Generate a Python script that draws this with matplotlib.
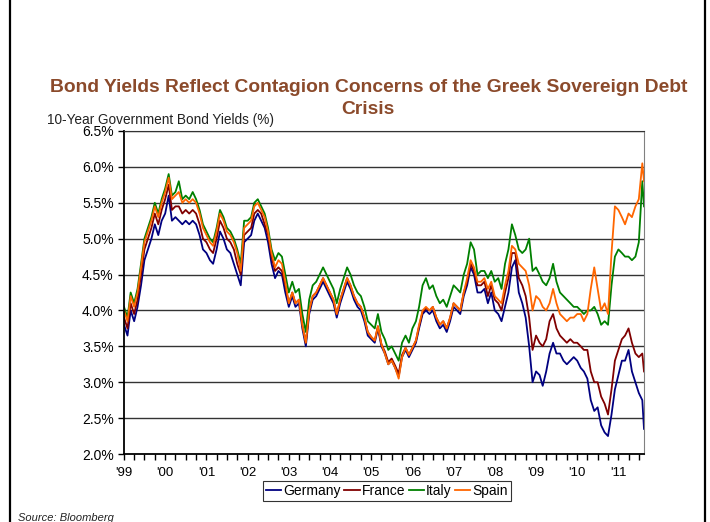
import numpy as np
import pandas as pd
import matplotlib
matplotlib.use('Agg')
import matplotlib.pyplot as plt
import matplotlib.dates as mdates
from matplotlib.ticker import FixedLocator, FuncFormatter

plt.rcParams['font.family'] = ['Liberation Sans', 'DejaVu Sans']

# monthly dates Jan 1999 .. Aug 2011, plus last reading mid-August 2011
dates = list(pd.date_range('1999-01-01', '2011-08-01', freq='MS')) + [pd.Timestamp('2011-08-16')]

germany = [
    3.80, 3.65, 4.00, 3.85, 4.05, 4.35, 4.70, 4.85, 5.00, 5.20, 5.05, 5.25,  # 1999
    5.35, 5.60, 5.25, 5.30, 5.25, 5.20, 5.25, 5.20, 5.25, 5.20, 5.05, 4.85,  # 2000
    4.80, 4.70, 4.65, 4.85, 5.10, 5.00, 4.85, 4.80, 4.65, 4.50, 4.35, 4.95,  # 2001
    5.00, 5.05, 5.25, 5.35, 5.25, 5.15, 4.95, 4.65, 4.45, 4.55, 4.50, 4.25,  # 2002
    4.05, 4.20, 4.05, 4.10, 3.75, 3.50, 3.95, 4.15, 4.20, 4.30, 4.40, 4.30,  # 2003
    4.20, 4.10, 3.90, 4.10, 4.25, 4.40, 4.30, 4.15, 4.05, 4.00, 3.85, 3.65,  # 2004
    3.60, 3.55, 3.75, 3.50, 3.40, 3.25, 3.30, 3.20, 3.08, 3.35, 3.45, 3.35,  # 2005
    3.45, 3.55, 3.75, 3.95, 4.00, 3.95, 4.00, 3.85, 3.75, 3.80, 3.70, 3.85,  # 2006
    4.05, 4.00, 3.95, 4.20, 4.35, 4.60, 4.50, 4.25, 4.25, 4.30, 4.10, 4.25,  # 2007
    4.00, 3.95, 3.85, 4.05, 4.25, 4.60, 4.70, 4.25, 4.10, 3.90, 3.50, 3.00,  # 2008
    3.15, 3.10, 2.95, 3.15, 3.40, 3.55, 3.40, 3.40, 3.30, 3.25, 3.30, 3.35,  # 2009
    3.30, 3.20, 3.15, 3.05, 2.75, 2.60, 2.65, 2.40, 2.30, 2.25, 2.55, 2.90,  # 2010
    3.10, 3.30, 3.30, 3.45, 3.15, 3.00, 2.85, 2.75, 2.35,                    # 2011
]

france = [
    3.90, 3.75, 4.10, 3.95, 4.15, 4.50, 4.85, 5.00, 5.15, 5.35, 5.20, 5.40,
    5.55, 5.75, 5.40, 5.45, 5.45, 5.35, 5.40, 5.35, 5.40, 5.35, 5.20, 5.00,
    4.95, 4.85, 4.80, 5.00, 5.25, 5.15, 5.00, 4.95, 4.85, 4.65, 4.50, 5.05,
    5.10, 5.15, 5.35, 5.40, 5.35, 5.20, 5.05, 4.75, 4.55, 4.60, 4.55, 4.35,
    4.10, 4.25, 4.10, 4.15, 3.80, 3.55, 4.00, 4.20, 4.25, 4.35, 4.45, 4.35,
    4.25, 4.15, 3.95, 4.15, 4.30, 4.45, 4.35, 4.20, 4.10, 4.05, 3.90, 3.70,
    3.63, 3.58, 3.78, 3.53, 3.43, 3.28, 3.33, 3.23, 3.12, 3.38, 3.48, 3.38,
    3.48, 3.58, 3.78, 3.98, 4.03, 4.00, 4.05, 3.90, 3.80, 3.85, 3.75, 3.90,
    4.10, 4.05, 4.00, 4.25, 4.40, 4.65, 4.55, 4.35, 4.35, 4.40, 4.20, 4.35,
    4.15, 4.10, 4.00, 4.25, 4.45, 4.80, 4.80, 4.45, 4.35, 4.20, 3.90, 3.45,
    3.65, 3.55, 3.50, 3.60, 3.85, 3.95, 3.75, 3.65, 3.60, 3.55, 3.60, 3.55,
    3.55, 3.50, 3.45, 3.45, 3.15, 3.00, 3.00, 2.80, 2.70, 2.55, 2.90, 3.30,
    3.45, 3.60, 3.65, 3.75, 3.55, 3.40, 3.35, 3.40, 3.15,
]

italy = [
    4.05, 3.90, 4.25, 4.10, 4.30, 4.65, 5.00, 5.15, 5.30, 5.50, 5.35, 5.55,
    5.70, 5.90, 5.60, 5.65, 5.80, 5.55, 5.60, 5.55, 5.65, 5.55, 5.40, 5.20,
    5.10, 5.00, 4.95, 5.15, 5.40, 5.30, 5.15, 5.10, 5.00, 4.85, 4.65, 5.25,
    5.25, 5.30, 5.50, 5.55, 5.45, 5.35, 5.15, 4.85, 4.70, 4.80, 4.75, 4.50,
    4.25, 4.40, 4.25, 4.30, 3.95, 3.70, 4.15, 4.35, 4.40, 4.50, 4.60, 4.50,
    4.40, 4.30, 4.10, 4.30, 4.45, 4.60, 4.50, 4.35, 4.25, 4.20, 4.05, 3.85,
    3.80, 3.75, 3.95, 3.70, 3.60, 3.45, 3.50, 3.40, 3.30, 3.55, 3.65, 3.55,
    3.75, 3.85, 4.05, 4.35, 4.45, 4.30, 4.35, 4.20, 4.10, 4.15, 4.05, 4.20,
    4.35, 4.30, 4.25, 4.50, 4.65, 4.95, 4.85, 4.50, 4.55, 4.55, 4.45, 4.55,
    4.40, 4.45, 4.30, 4.65, 4.85, 5.20, 5.05, 4.85, 4.80, 4.85, 5.00, 4.55,
    4.60, 4.50, 4.40, 4.35, 4.45, 4.65, 4.40, 4.25, 4.20, 4.15, 4.10, 4.05,
    4.05, 4.00, 3.95, 4.00, 4.00, 4.05, 3.95, 3.80, 3.85, 3.80, 4.35, 4.75,
    4.85, 4.80, 4.75, 4.75, 4.70, 4.75, 4.95, 5.80, 5.45,
]

spain = [
    4.00, 3.85, 4.20, 4.05, 4.25, 4.60, 4.95, 5.10, 5.25, 5.45, 5.30, 5.50,
    5.65, 5.85, 5.55, 5.60, 5.65, 5.50, 5.55, 5.50, 5.55, 5.50, 5.35, 5.15,
    5.05, 4.95, 4.90, 5.10, 5.35, 5.25, 5.10, 5.05, 4.95, 4.80, 4.55, 5.15,
    5.20, 5.25, 5.45, 5.50, 5.40, 5.30, 5.10, 4.80, 4.60, 4.70, 4.65, 4.40,
    4.10, 4.25, 4.10, 4.15, 3.80, 3.55, 4.00, 4.20, 4.25, 4.35, 4.45, 4.35,
    4.25, 4.15, 3.95, 4.15, 4.30, 4.45, 4.35, 4.20, 4.10, 4.05, 3.90, 3.70,
    3.63, 3.58, 3.78, 3.53, 3.40, 3.25, 3.30, 3.20, 3.05, 3.35, 3.48, 3.38,
    3.48, 3.58, 3.80, 4.00, 4.05, 4.00, 4.05, 3.90, 3.80, 3.85, 3.75, 3.90,
    4.10, 4.05, 4.00, 4.25, 4.45, 4.70, 4.60, 4.40, 4.40, 4.45, 4.30, 4.40,
    4.20, 4.15, 4.10, 4.35, 4.55, 4.90, 4.85, 4.65, 4.60, 4.55, 4.35, 4.00,
    4.20, 4.15, 4.05, 4.00, 4.10, 4.30, 4.10, 3.95, 3.90, 3.85, 3.90, 3.90,
    3.95, 3.95, 3.85, 3.95, 4.30, 4.60, 4.30, 4.00, 4.10, 3.95, 4.80, 5.45,
    5.40, 5.30, 5.20, 5.35, 5.30, 5.45, 5.55, 6.05, 5.80,
]

countries = ['Germany', 'France', 'Italy', 'Spain']
colors = ['#000080', '#800000', '#008000', '#FF6600']
series = [germany, france, italy, spain]

y_ticks = [2.0, 2.5, 3.0, 3.5, 4.0, 4.5, 5.0, 5.5, 6.0, 6.5]
year_labels = ["'99", "'00", "'01", "'02", "'03", "'04", "'05",
               "'06", "'07", "'08", "'09", "'10", "'11"]

fig = plt.figure(figsize=(7.1, 5.22), dpi=100)
ax = fig.add_axes([124/710, 1 - 454/522, (644-124)/710, (454-131)/522])

for name, col, vals in zip(countries, colors, series):
    ax.plot(dates, vals, color=col, lw=1.3, label=name)

ax.set_ylim(2.0, 6.5)
ax.set_xlim(pd.Timestamp('1999-01-01'), pd.Timestamp('2011-08-16'))
ax.set_yticks(y_ticks)
ax.yaxis.set_major_formatter(FuncFormatter(lambda v, p: f'{v:.1f}%'))
for y in y_ticks[1:]:
    ax.axhline(y, color='#333333', lw=1.0, zorder=0)

year_pos = [pd.Timestamp(f'{1999 + i}-01-01') for i in range(len(year_labels))]
ax.xaxis.set_major_locator(FixedLocator(mdates.date2num(year_pos)))
ax.set_xticklabels(year_labels)
ax.xaxis.set_minor_locator(mdates.MonthLocator(bymonth=[4, 7, 10]))
ax.tick_params(axis='x', which='both', direction='out', length=4, width=1,
               labelsize=9.5, pad=5)
ax.tick_params(axis='y', direction='out', length=4, width=1, labelsize=10)

for s in ['left', 'bottom']:
    ax.spines[s].set_linewidth(1.3)
ax.spines['top'].set_color('#333333')
ax.spines['right'].set_color('#808080')

fig.text(369/710, 1 - 88/522, 'Bond Yields Reflect Contagion Concerns of the Greek Sovereign Debt',
         ha='center', va='center', fontsize=13.9, fontweight='bold', color='#8B4A2B')
fig.text(368/710, 1 - 110/522, 'Crisis', ha='center', va='center', fontsize=13.9,
         fontweight='bold', color='#8B4A2B')
fig.text(47/710, 1 - 120/522, '10-Year Government Bond Yields (%)', ha='left',
         va='center', fontsize=9.8, color='#222222')
fig.text(18/710, 1 - 518/522, 'Source: Bloomberg', ha='left', va='center',
         fontsize=8, style='italic', color='#222222')

leg = fig.legend(loc='center', bbox_to_anchor=(387/710, 1 - 491/522), ncol=4,
                 fontsize=10, frameon=True, fancybox=False, handlelength=1.1,
                 handletextpad=0.15, columnspacing=0.25, borderpad=0.2,
                 borderaxespad=0)
leg.get_frame().set_edgecolor('black')
leg.get_frame().set_linewidth(0.8)

# outer frame lines
fig.add_artist(plt.Line2D([10/710, 10/710], [0, 1], color='black', lw=1.6))
fig.add_artist(plt.Line2D([705/710, 705/710], [0, 1], color='black', lw=1.6))

fig.savefig('out.png', dpi=100)
